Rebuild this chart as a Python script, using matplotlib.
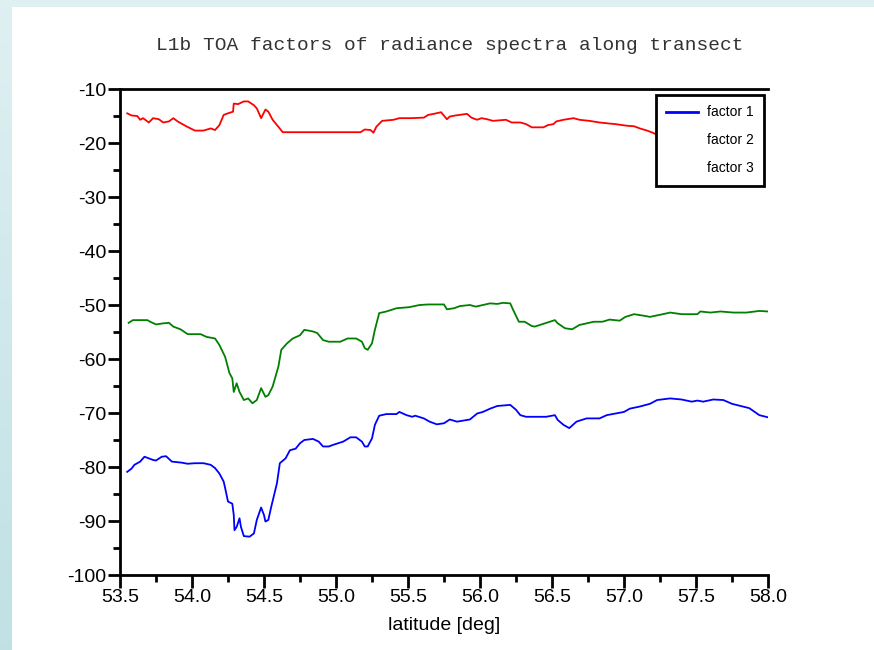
import numpy as np
import matplotlib
matplotlib.use("Agg")
import matplotlib.pyplot as plt
from matplotlib.lines import Line2D
from matplotlib.ticker import MultipleLocator

# factor 3 (red)
red_lat = [53.55, 53.58, 53.62, 53.64, 53.66, 53.70, 53.73, 53.77, 53.80, 53.84,
           53.87, 53.90, 53.96, 54.02, 54.08, 54.13, 54.16, 54.19, 54.22, 54.25,
           54.285, 54.29, 54.32, 54.36, 54.39, 54.43, 54.45, 54.48, 54.51, 54.53,
           54.56, 54.60, 54.63, 54.90, 55.17, 55.20, 55.24, 55.26, 55.28, 55.32,
           55.40, 55.44, 55.52, 55.61, 55.64, 55.68, 55.73, 55.77, 55.79, 55.83,
           55.91, 55.94, 55.98, 56.01, 56.05, 56.09, 56.18, 56.22,
           56.28, 56.32, 56.36, 56.44, 56.47, 56.51, 56.53, 56.58, 56.65, 56.69,
           56.76, 56.83, 56.90, 56.94, 57.02, 57.07, 57.11, 57.16, 57.20,
           57.23, 57.40, 57.60, 57.80, 57.95]
red_val = [-14.5, -14.9, -15.0, -15.7, -15.4, -16.2, -15.4, -15.6, -16.2, -16.0,
           -15.4, -16.0, -16.9, -17.7, -17.7, -17.3, -17.6, -16.7, -14.8, -14.5,
           -14.2, -12.7, -12.8, -12.3, -12.3, -13.0, -13.6, -15.4, -13.8, -14.2,
           -15.7, -17.0, -18.0, -18.0, -18.0, -17.5, -17.6, -18.1, -17.0, -15.9,
           -15.7, -15.4, -15.4, -15.3, -14.8, -14.6, -14.3, -15.6, -15.1, -14.9,
           -14.6, -15.3, -15.7, -15.4, -15.6, -15.9, -15.7, -16.2,
           -16.2, -16.5, -17.1, -17.1, -16.7, -16.5, -16.0, -15.7, -15.4, -15.7,
           -15.9, -16.2, -16.4, -16.5, -16.8, -16.9, -17.3, -17.7, -18.1,
           -18.5, -19.0, -19.3, -19.5, -19.6]

# factor 2 (green)
green_lat = [53.56, 53.59, 53.64, 53.69, 53.71, 53.75, 53.80, 53.84, 53.87, 53.92,
             53.97, 54.06, 54.10, 54.16, 54.19, 54.23, 54.26, 54.28, 54.29, 54.31,
             54.33, 54.36, 54.39, 54.42, 54.45, 54.48, 54.51, 54.53, 54.56, 54.60,
             54.62, 54.66, 54.70, 54.75, 54.78, 54.84, 54.87, 54.91, 54.95, 55.03,
             55.08, 55.14, 55.18, 55.20, 55.22, 55.25, 55.27, 55.30, 55.35, 55.42,
             55.51, 55.58, 55.64, 55.75, 55.77, 55.82, 55.86, 55.93, 55.97,
             56.02, 56.07, 56.12, 56.16, 56.21, 56.23, 56.27, 56.31, 56.36, 56.38,
             56.45, 56.52, 56.54, 56.59, 56.64, 56.69, 56.79, 56.85, 56.90,
             56.97, 57.01, 57.07, 57.14, 57.18, 57.27, 57.32, 57.40,
             57.51, 57.53, 57.60, 57.67, 57.76, 57.85, 57.94, 58.00]
green_val = [-53.3, -52.8, -52.8, -52.8, -53.1, -53.6, -53.4, -53.3, -54.0, -54.5,
             -55.4, -55.4, -55.9, -56.2, -57.4, -59.6, -62.6, -63.6, -66.1, -64.5,
             -66.1, -67.6, -67.3, -68.2, -67.6, -65.4, -67.0, -66.7, -65.1, -61.4,
             -58.3, -57.1, -56.2, -55.6, -54.6, -54.9, -55.2, -56.5, -56.8, -56.8,
             -56.2, -56.2, -56.8, -58.0, -58.3, -57.1, -54.6, -51.5, -51.2, -50.6,
             -50.4, -50.0, -49.9, -49.9, -50.8, -50.6, -50.2, -50.0, -50.3,
             -50.0, -49.7, -49.8, -49.6, -49.7, -50.9, -53.1, -53.1, -53.9, -54.0,
             -53.4, -52.8, -53.4, -54.3, -54.5, -53.7, -53.1, -53.1, -52.7,
             -52.9, -52.2, -51.7, -52.0, -52.2, -51.7, -51.4, -51.7,
             -51.7, -51.2, -51.4, -51.2, -51.4, -51.4, -51.1, -51.2]

# factor 1 (blue)
blue_lat = [53.55, 53.58, 53.60, 53.64, 53.67, 53.70, 53.73, 53.75, 53.79, 53.82,
            53.86, 53.93, 53.97, 54.02, 54.08, 54.13, 54.16, 54.19, 54.22,
            54.23, 54.25, 54.28, 54.29, 54.295, 54.31, 54.33, 54.34, 54.36, 54.40,
            54.43, 54.45, 54.48, 54.50, 54.51, 54.53, 54.55, 54.59, 54.61, 54.65,
            54.68, 54.72, 54.75, 54.78, 54.84, 54.88, 54.91, 54.95, 54.98,
            55.05, 55.10, 55.14, 55.18, 55.20, 55.22, 55.25, 55.27, 55.30, 55.35,
            55.42, 55.44, 55.49, 55.53, 55.55, 55.61, 55.65, 55.70, 55.75,
            55.79, 55.84, 55.93, 55.98, 56.02, 56.07, 56.12, 56.21, 56.25, 56.28,
            56.32, 56.42, 56.46, 56.52, 56.54, 56.58, 56.62, 56.67, 56.74, 56.83,
            56.88, 56.94, 57.00, 57.04, 57.11, 57.18, 57.23, 57.32, 57.40,
            57.47, 57.51, 57.55, 57.62, 57.69, 57.75, 57.81, 57.87, 57.94, 58.00]
blue_val = [-80.9, -80.3, -79.6, -79.0, -78.1, -78.4, -78.7, -78.8, -78.1, -78.0,
            -79.0, -79.2, -79.4, -79.3, -79.3, -79.6, -80.2, -81.2, -82.7,
            -83.9, -86.4, -86.8, -88.9, -91.7, -91.1, -89.5, -91.1, -92.8, -92.9,
            -92.3, -89.8, -87.5, -88.9, -90.1, -89.8, -87.4, -83.0, -79.3, -78.4,
            -76.9, -76.6, -75.6, -75.0, -74.8, -75.3, -76.2, -76.2, -75.9,
            -75.3, -74.5, -74.5, -75.3, -76.2, -76.2, -74.7, -72.2, -70.5, -70.2,
            -70.2, -69.8, -70.4, -70.7, -70.5, -71.0, -71.6, -72.1, -71.9,
            -71.2, -71.6, -71.2, -70.1, -69.8, -69.2, -68.7, -68.5, -69.4, -70.4,
            -70.7, -70.7, -70.7, -70.4, -71.3, -72.2, -72.8, -71.6, -71.0, -71.0,
            -70.4, -70.1, -69.8, -69.2, -68.8, -68.3, -67.6, -67.3, -67.5,
            -67.9, -67.7, -67.9, -67.5, -67.6, -68.3, -68.7, -69.1, -70.4, -70.8]

labels = ["factor 1", "factor 2", "factor 3"]
xticks = [53.5, 54.0, 54.5, 55.0, 55.5, 56.0, 56.5, 57.0, 57.5, 58.0]
yticks = [-100, -90, -80, -70, -60, -50, -40, -30, -20, -10]

fig = plt.figure(figsize=(8.74, 6.5), dpi=100)
fig.patch.set_facecolor("white")

# light cyan frame on the left and top edges
bg = fig.add_axes([0, 0, 1, 1], zorder=-10)
bg.set_xlim(0, 874)
bg.set_ylim(650, 0)
bg.axis("off")
grad = np.linspace(0, 1, 200).reshape(-1, 1)
c_top = np.array([0.875, 0.941, 0.949])
c_bot = np.array([0.753, 0.882, 0.898])
strip = c_top + grad[..., None] * (c_bot - c_top)
bg.imshow(strip, extent=(0, 12, 650, 0), aspect="auto")
bg.add_patch(plt.Rectangle((0, 0), 874, 7, color=c_top, lw=0))

ax = fig.add_axes([120 / 874, 1 - 575 / 650, 648 / 874, 486 / 650])
ax.plot(red_lat, red_val, color="#ff0000", lw=1.3)
ax.plot(green_lat, green_val, color="#008000", lw=1.3)
ax.plot(blue_lat, blue_val, color="#0000ff", lw=1.3)

ax.set_xlim(53.5, 58.0)
ax.set_ylim(-100, -10)
ax.set_xticks(xticks)
ax.set_xticklabels([f"{v:.1f}" for v in xticks])
ax.set_yticks(yticks)
ax.set_yticklabels([str(v) for v in yticks])
ax.xaxis.set_minor_locator(MultipleLocator(0.25))
ax.yaxis.set_minor_locator(MultipleLocator(5))

for side in ["left", "bottom", "top"]:
    ax.spines[side].set_linewidth(2)
ax.spines["right"].set_visible(False)
ax.tick_params(which="major", direction="out", length=9, width=2,
               labelsize=14, pad=1, top=False, right=False)
ax.tick_params(which="minor", direction="out", length=5, width=2,
               top=False, right=False)
for lbl in ax.get_xticklabels() + ax.get_yticklabels():
    lbl.set_family("Liberation Sans")

ax.set_xlabel("latitude [deg]", fontsize=14, family="Liberation Sans", labelpad=8)
fig.text(450 / 874, 1 - 46 / 650, "L1b TOA factors of radiance spectra along transect",
         ha="center", va="center", fontsize=14, family="Liberation Mono", color="#333333")

handles = [Line2D([], [], color="#0000ff", lw=2),
           Line2D([], [], linestyle="none"),
           Line2D([], [], linestyle="none")]
leg = ax.legend(handles, labels, loc="upper right",
                bbox_to_anchor=(764 / 874, 1 - 95 / 650), bbox_transform=fig.transFigure,
                borderaxespad=0, fancybox=False, framealpha=1, edgecolor="black",
                prop={"family": "Liberation Sans", "size": 10},
                handlelength=2.3, handletextpad=0.6, labelspacing=1.0,
                borderpad=0.75)
leg.get_frame().set_linewidth(2)

fig.savefig("out.png", dpi=100)
